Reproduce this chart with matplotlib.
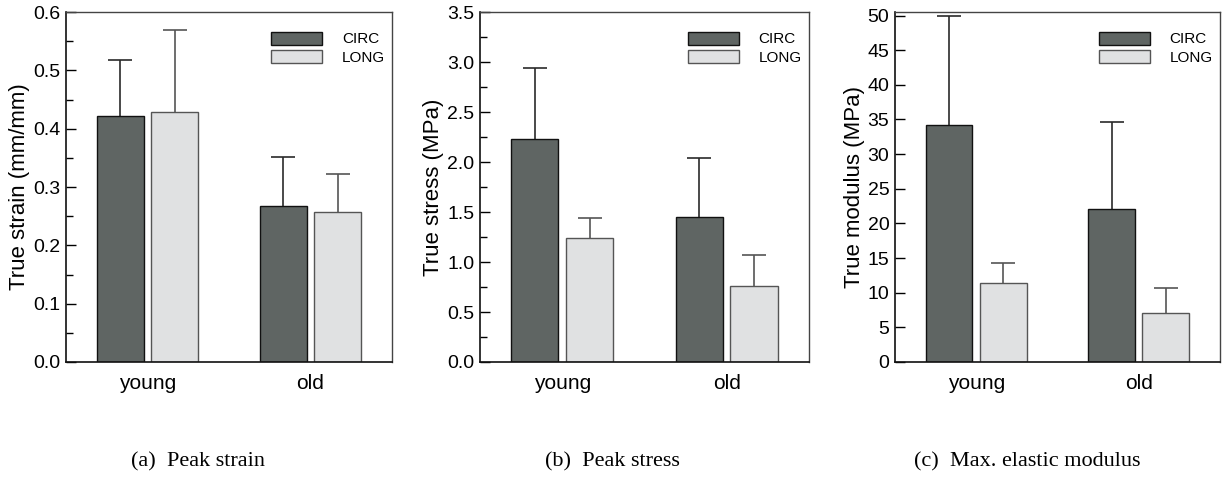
import matplotlib
matplotlib.use("Agg")
import matplotlib.pyplot as plt
from matplotlib.patches import Patch
from matplotlib.ticker import MultipleLocator
import numpy as np

# Groups and series
groups = ["young", "old"]
series = ["CIRC", "LONG"]

# Peak strain (mm/mm): mean and upper SD
strain_circ = [0.421, 0.268]
strain_circ_sd = [0.096, 0.084]
strain_long = [0.429, 0.258]
strain_long_sd = [0.141, 0.064]

# Peak stress (MPa)
stress_circ = [2.226, 1.452]
stress_circ_sd = [0.718, 0.591]
stress_long = [1.245, 0.761]
stress_long_sd = [0.197, 0.314]

# Max. elastic modulus (MPa)
modulus_circ = [34.15, 22.06]
modulus_circ_sd = [15.75, 12.57]
modulus_long = [11.46, 7.08]
modulus_long_sd = [2.89, 3.66]

captions = ["(a)  Peak strain", "(b)  Peak stress", "(c)  Max. elastic modulus"]
ylabels = ["True strain (mm/mm)", "True stress (MPa)", "True modulus (MPa)"]

plt.rcParams["font.family"] = ["Liberation Sans", "DejaVu Sans"]

CIRC_FILL = "#5f6563"
LONG_FILL = "#e0e1e2"

fig = plt.figure(figsize=(12.3, 4.78), dpi=100)

panels = [
    dict(left=0.0537, width=0.265, circ=strain_circ, circ_sd=strain_circ_sd,
         long=strain_long, long_sd=strain_long_sd, ylim=(0, 0.6),
         major=0.1, minor=0.05, fmt="{:.1f}", cap_x=198 / 1230),
    dict(left=0.3902, width=0.2675, circ=stress_circ, circ_sd=stress_circ_sd,
         long=stress_long, long_sd=stress_long_sd, ylim=(0, 3.5),
         major=0.5, minor=0.25, fmt="{:.1f}", cap_x=612 / 1230),
    dict(left=0.7276, width=0.2642, circ=modulus_circ, circ_sd=modulus_circ_sd,
         long=modulus_long, long_sd=modulus_long_sd, ylim=(0, 50.5),
         major=5, minor=None, fmt="{:.0f}", cap_x=1027 / 1230),
]

x = np.arange(len(groups))
bw = 0.288
off = 0.167


def upper_error(ax, xs, means, sds, color):
    means = np.asarray(means)
    sds = np.asarray(sds)
    ax.vlines(xs, means, means + sds, colors=color, linewidth=1.2, zorder=1)
    ax.plot(xs, means + sds, linestyle="none", marker="_", markersize=17,
            markeredgewidth=1.2, color=color, zorder=1)


for i, p in enumerate(panels):
    ax = fig.add_axes([p["left"], 0.2427, p["width"], 0.732])
    ax.bar(x - off, p["circ"], bw, color=CIRC_FILL, edgecolor="#111111",
           linewidth=1.0, zorder=2)
    ax.bar(x + off, p["long"], bw, color=LONG_FILL, edgecolor="#555555",
           linewidth=1.0, zorder=2)
    upper_error(ax, x - off, p["circ"], p["circ_sd"], "#2a2a2a")
    upper_error(ax, x + off, p["long"], p["long_sd"], "#555555")

    ax.set_xlim(-0.5, 1.5)
    ax.set_ylim(*p["ylim"])
    ax.set_xticks(x)
    ax.set_xticklabels(groups, fontsize=15)
    ax.tick_params(axis="x", length=0, pad=9)
    ax.yaxis.set_major_locator(MultipleLocator(p["major"]))
    if p["minor"]:
        ax.yaxis.set_minor_locator(MultipleLocator(p["minor"]))
    ax.yaxis.set_major_formatter(plt.FuncFormatter(lambda v, _, f=p["fmt"]: f.format(v)))
    ax.tick_params(axis="y", which="major", direction="in", length=7,
                   width=1.0, labelsize=14, pad=4)
    ax.tick_params(axis="y", which="minor", direction="in", length=5, width=1.0)
    ax.set_ylabel(ylabels[i], fontsize=16, labelpad=2)

    for side in ["left", "bottom"]:
        ax.spines[side].set_color("#111111")
        ax.spines[side].set_linewidth(1.2)
    for side in ["top", "right"]:
        ax.spines[side].set_color("#444444")
        ax.spines[side].set_linewidth(1.0)

    handles = [Patch(facecolor=CIRC_FILL, edgecolor="#111111", linewidth=1.0),
               Patch(facecolor=LONG_FILL, edgecolor="#555555", linewidth=1.0)]
    ax.legend(handles, series, loc="upper right", frameon=False, fontsize=11,
              handlelength=3.35, handleheight=0.95, handletextpad=1.3,
              labelspacing=0.25, borderaxespad=0.0,
              bbox_to_anchor=(0.997, 0.962))

    fig.text(p["cap_x"], 1 - 462 / 478, captions[i],
             ha="center", va="center", fontsize=16,
             family=["Liberation Serif", "DejaVu Serif"])

fig.savefig("out.png", dpi=100)
